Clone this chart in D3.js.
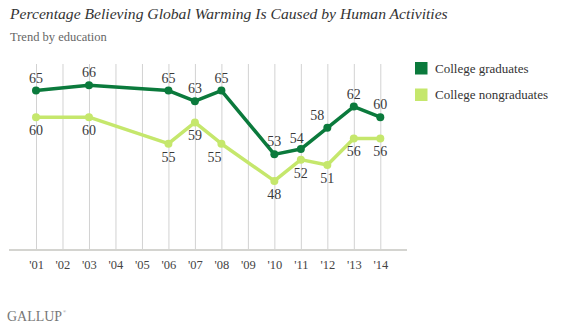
<!DOCTYPE html>
<html>
<head>
<meta charset="utf-8">
<script src="https://cdn.jsdelivr.net/npm/d3@7"></script>
<style>
  body { margin: 0; background: #ffffff; }
  svg { display: block; font-family: 'Liberation Serif', 'DejaVu Serif', serif; }
</style>
</head>
<body>
<svg id="chart" width="565" height="327"></svg>
<script>

const years = [2001, 2003, 2006, 2007, 2008, 2010, 2011, 2012, 2013, 2014];
const tickYears = d3.range(2001, 2015);
const graduates = [65, 66, 65, 63, 65, 53, 54, 58, 62, 60];
const nongraduates = [60, 60, 55, 59, 55, 48, 52, 51, 56, 56];
const seriesNames = ['College graduates', 'College nongraduates'];

const colors = ['#0b7a3c', '#c5e76c'];

// label nudges where the text would sit on a line  (TODO: automatic?)
const nudge = {
  '0-2012': [-10, 0],
  '0-2011': [-4, 2],
  '1-2008': [-7, 0]
};

const svg = d3.select('#chart');

const x = d3.scaleLinear()
    .domain([2001, 2014])
    .range([36, 380.3]);
const y = d3.scaleLinear()
    .domain([35, 70])
    .range([250, 64]);


function fitText(selection, width) {
  selection.each(function () {
    const w = this.getComputedTextLength();
    const size = parseFloat(d3.select(this).attr('font-size'));
    d3.select(this).attr('font-size', size * width / w);
  });
}


function drawHeader(selection) {
  selection.append('text')
      .attr('x', 10)
      .attr('y', 19)
      .attr('font-size', 15)
      .attr('font-style', 'italic')
      .attr('fill', '#333333')
      .text('Percentage Believing Global Warming Is Caused by Human Activities')
      .call(fitText, 438);
  selection.append('text')
      .attr('x', 10)
      .attr('y', 41)
      .attr('font-size', 12.5)
      .attr('fill', '#666666')
      .text('Trend by education');
}


function drawAxis(selection) {
  const axis = d3.axisBottom(x)
      .tickValues(tickYears)
      .tickSize(-(250 - 64))
      .tickPadding(10)
      .tickFormat(d => `'${String(d).slice(2)}`);
  const g = selection.append('g')
      .attr('transform', 'translate(0,250)')
      .call(axis)
      .attr('font-family', null);
  g.select('.domain').remove();
  g.selectAll('.tick line')
      .attr('stroke', '#d2d2d2')
      .attr('stroke-width', 1);
  g.selectAll('.tick text')
      .attr('fill', '#444444')
      .attr('font-size', 12.5);
  selection.append('line')
      .attr('x1', 9)
      .attr('x2', 407)
      .attr('y1', 250)
      .attr('y2', 250)
      .attr('stroke', '#d4d4d0')
      .attr('stroke-width', 2);
}


function drawSeries(selection, values, i) {
  const data = years.map((yr, k) => ({year: yr, value: values[k]}));
  const line = d3.line()
      .x(d => x(d.year))
      .y(d => y(d.value));
  const g = selection.append('g')
      .attr('class', 'series');
  g.append('path')
      .datum(data)
      .attr('d', line)
      .attr('fill', 'none')
      .attr('stroke', colors[i])
      .attr('stroke-width', 3.5)
      .attr('stroke-linejoin', 'round');
  g.selectAll('circle')
    .data(data)
    .enter().append('circle')
      .attr('cx', d => x(d.year))
      .attr('cy', d => y(d.value))
      .attr('r', 4)
      .attr('fill', colors[i]);
  g.selectAll('text')
    .data(data)
    .enter().append('text')
      .attr('x', d => x(d.year) + (nudge[`${i}-${d.year}`] || [0, 0])[0])
      .attr('y', d => y(d.value) + (i === 0 ? -8 : 18) + (nudge[`${i}-${d.year}`] || [0, 0])[1])
      .attr('text-anchor', 'middle')
      .attr('font-size', 14)
      .attr('fill', '#3a3a3a')
      .text(d => d.value);
}


function drawLegend(selection) {
  const items = selection.append('g')
      .attr('transform', 'translate(415,62)')
    .selectAll('g')
    .data(seriesNames)
    .enter().append('g')
      .attr('transform', (d, i) => `translate(0,${i * 26.5})`);
  items.append('rect')
      .attr('width', 12.5)
      .attr('height', 12.5)
      .attr('fill', (d, i) => colors[i]);
  items.append('text')
      .attr('x', 20)
      .attr('y', 10.5)
      .attr('font-size', 13)
      .attr('fill', '#333333')
      .text(d => d);
}


function drawLogo(selection) {
  selection.append('text')
      .attr('x', 7)
      .attr('y', 321)
      .attr('font-size', 14)
      .attr('fill', '#777777')
      .text('GALLUP')
      .call(fitText, 55);
  selection.append('text')
      .attr('x', 63)
      .attr('y', 313)
      .attr('font-size', 4)
      .attr('fill', '#777777')
      .text('®');
}


svg.call(drawHeader);
svg.call(drawAxis);
svg.call(drawSeries, graduates, 0);
svg.call(drawSeries, nongraduates, 1);
svg.call(drawLegend);
svg.call(drawLogo);

</script>
</body>
</html>
